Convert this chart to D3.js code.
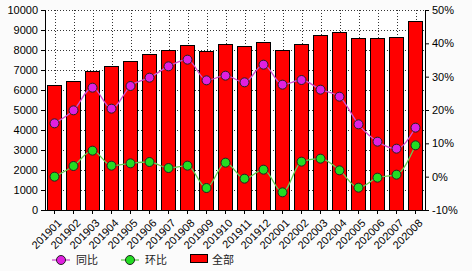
<!DOCTYPE html>
<html>
<head>
<meta charset="utf-8">
<script src="https://cdn.jsdelivr.net/npm/d3@7"></script>
<style>
  body { margin: 0; background: #fbfbfb; }
  svg { display: block; font-family: Arial, "Liberation Sans", "Noto Sans CJK SC", sans-serif; }
</style>
</head>
<body>
<svg id="chart" width="472" height="271"></svg>
<script>
// months shown on the x axis
var months = ["201901","201902","201903","201904","201905","201906","201907","201908","201909","201910",
              "201911","201912","202001","202002","202003","202004","202005","202006","202007","202008"];
// 全部 (bars, left axis)
var totals = [6230, 6430, 6950, 7180, 7430, 7780, 7980, 8230, 7930, 8280,
              8180, 8380, 7980, 8280, 8730, 8880, 8580, 8580, 8630, 9430];
// 同比 (% , right axis)
var yoy = [16.0, 19.9, 26.7, 20.4, 27.2, 29.7, 33.1, 35.1, 28.9, 30.3,
           28.3, 33.6, 27.6, 29.0, 26.1, 24.0, 15.7, 10.5, 8.4, 14.7];
// 环比 (% , right axis)
var mom = [0.0, 3.2, 7.8, 3.3, 4.0, 4.4, 2.6, 3.3, -3.4, 4.2,
           -0.6, 2.1, -4.7, 4.5, 5.4, 1.9, -3.3, -0.3, 0.6, 9.4];
var leftTicks = d3.range(0, 10001, 1000);
var rightTicks = [-10, 0, 10, 20, 30, 40, 50];

var svg = d3.select("#chart");
var plotL = 45, plotR = 425, plotT = 10, plotB = 210;

var x = d3.scaleBand().domain(months).range([plotL, plotR]).paddingInner(0.26).paddingOuter(0.13);
var yL = d3.scaleLinear().domain([0, 10000]).range([plotB, plotT]);
var yR = d3.scaleLinear().domain([-10, 50]).range([plotB, plotT]);

svg.append("rect").attr("x", plotL).attr("y", plotT).attr("width", plotR - plotL).attr("height", plotB - plotT)
  .attr("fill", "#ffffff");

// dotted grid
var grid = svg.append("g").attr("stroke", "#333").attr("stroke-width", 1).attr("stroke-dasharray", "1,2");
grid.selectAll("line.h").data(leftTicks.slice(1)).enter().append("line")
  .attr("x1", plotL).attr("x2", plotR)
  .attr("y1", function(d) { return Math.round(yL(d)) + 0.5; })
  .attr("y2", function(d) { return Math.round(yL(d)) + 0.5; });
grid.selectAll("line.v").data(months).enter().append("line")
  .attr("x1", function(d) { return Math.round(x(d) + x.bandwidth() / 2) + 0.5; })
  .attr("x2", function(d) { return Math.round(x(d) + x.bandwidth() / 2) + 0.5; })
  .attr("y1", plotT).attr("y2", plotB);

// bars
svg.append("g").selectAll("rect").data(totals).enter().append("rect")
  .attr("x", function(d, i) { return Math.round(x(months[i])) + 0.5; })
  .attr("y", function(d) { return Math.round(yL(d)) + 0.5; })
  .attr("width", Math.round(x.bandwidth()))
  .attr("height", function(d) { return Math.round(plotB - yL(d)); })
  .attr("fill", "#ff0000").attr("stroke", "#000").attr("stroke-width", 1);

// axes
var axL = svg.append("g").attr("transform", "translate(" + plotL + ",0)")
  .call(d3.axisLeft(yL).tickValues(leftTicks).tickSize(4).tickPadding(3).tickFormat(d3.format("d")));
var axR = svg.append("g").attr("transform", "translate(" + plotR + ",0)")
  .call(d3.axisRight(yR).tickValues(rightTicks).tickSize(4).tickPadding(3).tickFormat(function(d) { return d + "%"; }));
var axB = svg.append("g").attr("transform", "translate(0," + plotB + ")")
  .call(d3.axisBottom(x).tickSize(4).tickSizeOuter(0));
[axL, axR, axB].forEach(function(a) {
  a.selectAll("path, line").attr("stroke", "#000");
  a.selectAll("text").attr("fill", "#000").style("font-size", "11px");
});
axB.select(".domain").attr("d", "M" + plotL + ",0.5H" + plotR);
axB.selectAll("text")
  .attr("text-anchor", "end")
  .attr("dy", "0.35em")
  .attr("x", 0).attr("y", 0)
  .attr("transform", "translate(5,11) rotate(-45)");

// lines
function drawSeries(vals, stroke, fill) {
  var line = d3.line()
    .x(function(d, i) { return x(months[i]) + x.bandwidth() / 2; })
    .y(function(d) { return yR(d); })
    .curve(d3.curveMonotoneX);
  svg.append("path").datum(vals).attr("d", line)
    .attr("fill", "none").attr("stroke", stroke).attr("stroke-width", 1.3);
  svg.append("g").selectAll("circle").data(vals).enter().append("circle")
    .attr("cx", function(d, i) { return x(months[i]) + x.bandwidth() / 2; })
    .attr("cy", function(d) { return yR(d); })
    .attr("r", 4.5).attr("fill", fill).attr("stroke", "#222").attr("stroke-width", 1);
}
drawSeries(yoy, "#d050d0", "#e020e0");
drawSeries(mom, "#66cc55", "#22dd22");

// legend
var lg = svg.append("g").style("font-size", "11px").style("font-family", "'Noto Sans CJK SC', sans-serif");
function legendLine(x0, stroke, fill, label) {
  lg.append("line").attr("x1", x0).attr("x2", x0 + 18).attr("y1", 260).attr("y2", 260)
    .attr("stroke", stroke).attr("stroke-width", 1.3);
  lg.append("circle").attr("cx", x0 + 9).attr("cy", 260).attr("r", 4.5)
    .attr("fill", fill).attr("stroke", "#222");
  lg.append("text").attr("x", x0 + 24).attr("y", 264).attr("fill", "#222").text(label);
}
legendLine(52, "#d050d0", "#e020e0", "同比");
legendLine(121, "#66cc55", "#22dd22", "环比");
lg.append("rect").attr("x", 190.5).attr("y", 254.5).attr("width", 17).attr("height", 8)
  .attr("fill", "#ff0000").attr("stroke", "#000");
lg.append("text").attr("x", 212).attr("y", 264).attr("fill", "#222").text("全部");
</script>
</body>
</html>
